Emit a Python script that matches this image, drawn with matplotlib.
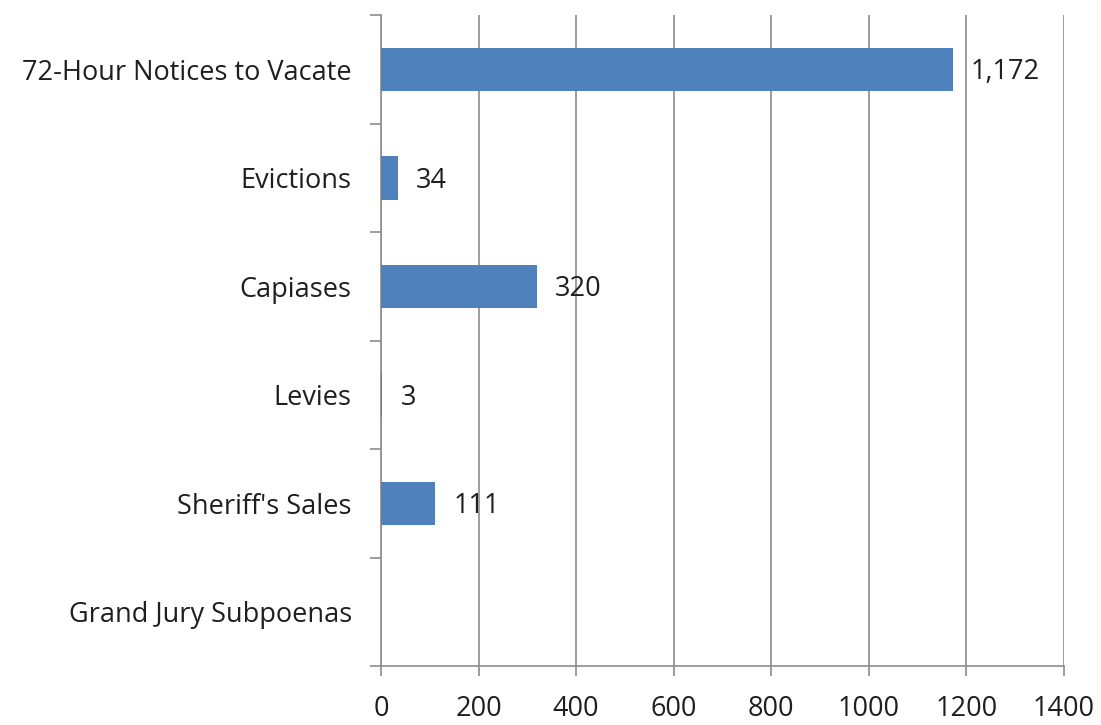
import numpy as np
import matplotlib
matplotlib.use("Agg")
import matplotlib.pyplot as plt

# data (top to bottom)
categories = ["72-Hour Notices to Vacate", "Evictions", "Capiases", "Levies",
              "Sheriff's Sales", "Grand Jury Subpoenas"]
values = [1172, 34, 320, 3, 111, np.nan]
x_ticks = [0, 200, 400, 600, 800, 1000, 1200, 1400]

plt.rcParams['font.family'] = ['Open Sans', 'DejaVu Sans']
text_col = '#1f1f1f'
grid_col = '#8c8c8c'
fs = 19.5

fig = plt.figure(figsize=(11.01, 7.25), dpi=100)
ax = fig.add_axes([0.346, 0.0814, 0.6204, 0.8976])

y = np.arange(len(categories))
ax.barh(y, np.nan_to_num(values), height=0.4, color='#4f81bd', zorder=3)

for yi, v in zip(y, values):
    if np.isnan(v):
        continue
    ax.annotate(f"{int(v):,}", xy=(v, yi), xytext=(13, -2), textcoords='offset points',
                va='center', ha='left', fontsize=fs, color=text_col)

ax.set_xlim(0, 1400)
ax.set_ylim(len(categories) - 0.5, -0.5)
ax.set_xticks(x_ticks)
ax.set_xticklabels([str(t) for t in x_ticks])
ax.set_yticks(y)
ax.set_yticklabels(categories)
ax.set_yticks(np.arange(len(categories) + 1) - 0.5, minor=True)

ax.grid(axis='x', color=grid_col, linewidth=1.2, zorder=0)
for s in ['top', 'right']:
    ax.spines[s].set_visible(False)
for s in ['left', 'bottom']:
    ax.spines[s].set_color(grid_col)
    ax.spines[s].set_linewidth(1.2)

ax.tick_params(axis='x', length=7, width=1.2, color=grid_col, pad=14,
               labelsize=fs, labelcolor=text_col)
ax.tick_params(axis='y', which='major', length=0, pad=21,
               labelsize=fs, labelcolor=text_col)
ax.tick_params(axis='y', which='minor', length=8, width=1.2, color=grid_col)

fig.savefig("out.png", dpi=100)
